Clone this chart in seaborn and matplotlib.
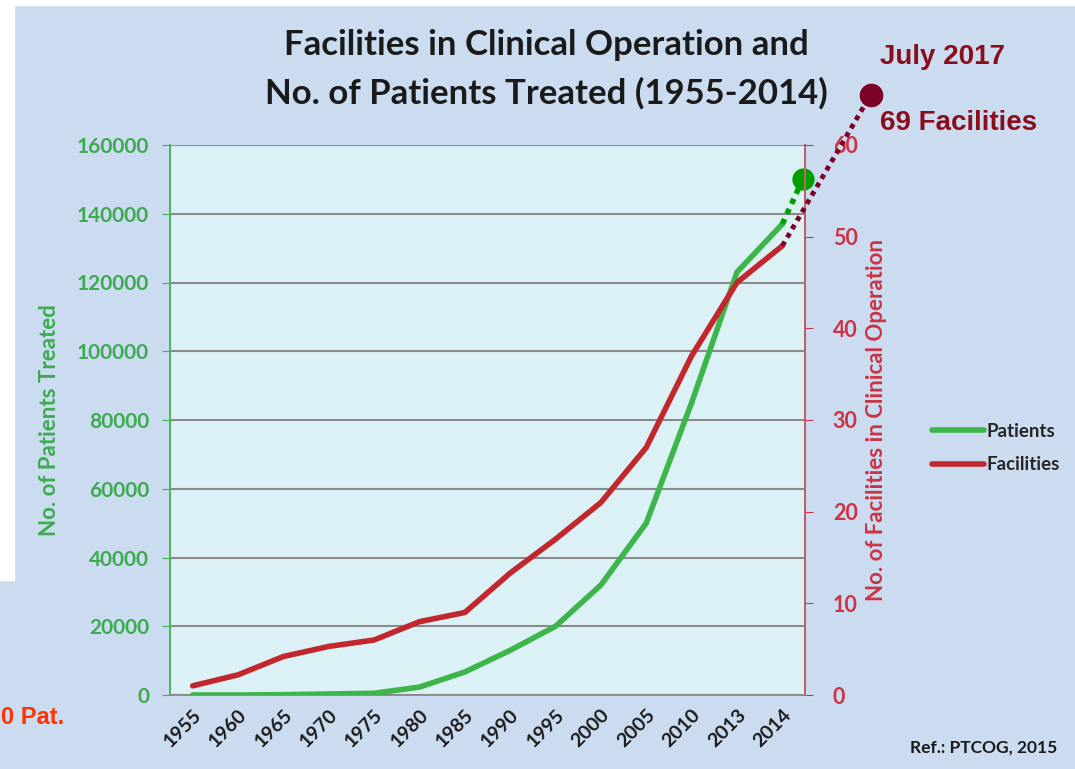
import numpy as np
import pandas as pd
import matplotlib
matplotlib.use("Agg")
import matplotlib.pyplot as plt
from matplotlib.patches import Rectangle
from matplotlib.lines import Line2D
import seaborn as sns

# ---------------------------------------------------------------------------
# Data
# ---------------------------------------------------------------------------
years = ["1955", "1960", "1965", "1970", "1975", "1980", "1985",
         "1990", "1995", "2000", "2005", "2010", "2013", "2014"]
patients = [0, 0, 100, 300, 500, 2300, 6700,
            13000, 20000, 32000, 50000, 85000, 123000, 137000]
facilities = [1.0, 2.2, 4.2, 5.3, 6.0, 8.0, 9.0,
              13.3, 17.0, 21.0, 27.0, 37.0, 45.0, 49.0]

# projections (dotted extensions to the dots)
patients_proj_x = [13, 13.45]
patients_proj = [137000, 150000]
facilities_proj_x = [13, 14.95]
facilities_proj = [49, 65.5]

left_ticks = [0, 20000, 40000, 60000, 80000, 100000, 120000, 140000, 160000]
right_ticks = [0, 10, 20, 30, 40, 50, 60]

# ---------------------------------------------------------------------------
# Style
# ---------------------------------------------------------------------------
BG = "#cbdcf1"
PLOT_BG = "#dcf1f6"
GREEN = "#3db54a"
GREEN_TXT = "#3daa50"
RED = "#c1272d"
RED_TXT = "#cc3344"
MAROON = "#7a0026"
DARK_RED_TXT = "#8b0d1c"
FONT = "Lato"

sns.set_style("white")
plt.rcParams["font.family"] = [FONT, "DejaVu Sans"]

df = pd.DataFrame({"idx": np.arange(len(years)), "year": years,
                   "patients": patients, "facilities": facilities})

fig = plt.figure(figsize=(10.75, 7.69), dpi=100, facecolor=BG)
# white slide remnants
fig.patches.append(Rectangle((0, 1 - 580 / 769), 14 / 1075, 580 / 769,
                             transform=fig.transFigure, color="white", zorder=0))
fig.patches.append(Rectangle((0, 1 - 5 / 769), 1, 5 / 769,
                             transform=fig.transFigure, color="white", zorder=0))

ax = fig.add_axes([170 / 1075, 1 - 695 / 769, 635 / 1075, 550 / 769])
ax.set_facecolor(PLOT_BG)
ax2 = ax.twinx()

sns.lineplot(data=df, x="idx", y="patients", ax=ax, color=GREEN, lw=4, zorder=4)
sns.lineplot(data=df, x="idx", y="facilities", ax=ax2, color=RED, lw=4, zorder=3)

ax.plot(patients_proj_x, patients_proj, color="#00a000", lw=4, ls=(0, (1, 1)),
        zorder=5, clip_on=False)
ax.plot(patients_proj_x[-1:], patients_proj[-1:], "o", color="#00a000", ms=15,
        zorder=6, clip_on=False)
ax2.plot(facilities_proj_x, facilities_proj, color=MAROON, lw=3.5, ls=(0, (1, 1)),
         zorder=5, clip_on=False)
ax2.plot(facilities_proj_x[-1:], facilities_proj[-1:], "o", color=MAROON, ms=16,
         zorder=6, clip_on=False)

# axes limits / ticks
ax.set_xlim(-0.5, 13.5)
ax.set_ylim(0, 160000)
ax2.set_ylim(0, 60)
ax.set_yticks(left_ticks)
ax2.set_yticks(right_ticks)
ax.set_xticks(np.arange(-0.5, 14, 1))
ax.set_xticklabels([])
ax.set_xticks(np.arange(len(years)), minor=True)
ax.set_xticklabels(years, minor=True, rotation=45, ha="right",
                   rotation_mode="anchor", fontsize=14, fontweight="bold",
                   color="#1a1a1a")
ax.tick_params(axis="x", which="major", length=6, color="#888888", direction="out")
ax.tick_params(axis="x", which="minor", length=0, pad=8)
ax.tick_params(axis="y", length=6, color=GREEN, labelcolor=GREEN_TXT,
               labelsize=15, pad=9)
ax2.tick_params(axis="y", length=6, color=RED_TXT, labelcolor=RED_TXT,
                labelsize=15.5, pad=14)
for lab in ax.get_yticklabels() + ax2.get_yticklabels():
    lab.set_fontweight("bold")

ax.grid(axis="y", color="#8a8a8a", lw=1.5)
ax.set_axisbelow(True)
for a in (ax, ax2):
    a.spines["top"].set_visible(False)
ax.spines["left"].set_color(GREEN)
ax.spines["bottom"].set_color("#888888")
ax2.spines["right"].set_color("#d06070")
ax2.spines["left"].set_visible(False)
ax2.spines["bottom"].set_visible(False)
for s in ("left", "bottom", "right"):
    ax.spines[s].set_linewidth(1.3)
    ax2.spines[s].set_linewidth(1.3)

ax.set_xlabel("")
ax.set_ylabel("No. of Patients Treated", color=GREEN_TXT, fontsize=16,
              fontweight="bold", labelpad=12)
ax2.set_ylabel("No. of Facilities in Clinical Operation", color=RED_TXT,
               fontsize=16, fontweight="bold", labelpad=6)

# title
fig.text(0.508, 1 - 45 / 769, "Facilities in Clinical Operation and",
         ha="center", va="center", fontsize=25, fontweight="bold", color="#1a1a1a")
fig.text(0.508, 1 - 93 / 769, "No. of Patients Treated (1955-2014)",
         ha="center", va="center", fontsize=25, fontweight="bold", color="#1a1a1a")

# annotations
fig.text(880 / 1075, 1 - 57 / 769, "July 2017", ha="left", va="center",
         fontsize=20, fontweight="bold", color=DARK_RED_TXT,
         family="Liberation Sans")
fig.text(880 / 1075, 1 - 123 / 769, "69 Facilities", ha="left", va="center",
         fontsize=20, fontweight="bold", color=DARK_RED_TXT,
         family="Liberation Sans")
fig.text(1 / 1075, 1 - 717 / 769, "0 Pat.", ha="left", va="center",
         fontsize=17, fontweight="bold", color="#ff3300",
         family="Liberation Sans")
fig.text(1057 / 1075, 1 - 748 / 769, "Ref.: PTCOG, 2015", ha="right",
         va="center", fontsize=12.5, fontweight="bold", color="#1a1a1a")

# legend
handles = [Line2D([], [], color=GREEN, lw=4), Line2D([], [], color=RED, lw=4)]
fig.legend(handles, ["Patients", "Facilities"], loc="center left",
           bbox_to_anchor=(915 / 1075, 1 - 448 / 769), frameon=False,
           handlelength=2.8, handletextpad=0.1, labelspacing=0.9,
           prop={"family": FONT, "weight": "bold", "size": 13.5})

fig.savefig("out.png", dpi=100, facecolor=BG)
